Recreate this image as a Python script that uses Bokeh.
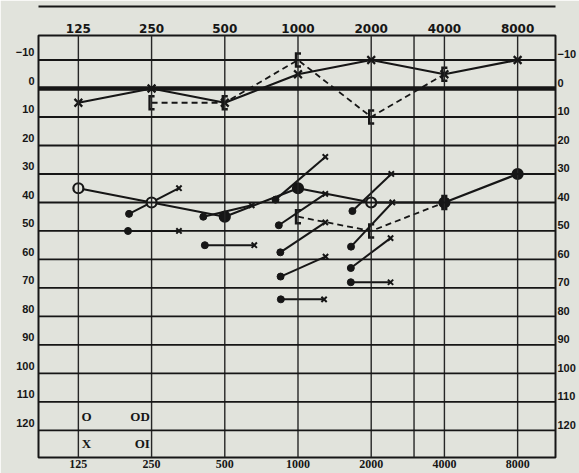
from bokeh.plotting import figure
from bokeh.models import LogAxis, LinearAxis, FixedTicker, Range1d, Span, Label, ColumnDataSource
from bokeh.embed import file_html
from bokeh.resources import INLINE

# ---------------- data ----------------
freqs = [125, 250, 500, 1000, 2000, 4000, 8000]
freq_labels = ["125", "250", "500", "1000", "2000", "4000", "8000"]
grid_freqs = [125, 250, 500, 1000, 2000, 3000, 4000, 8000]
db_ticks = [-10, 0, 10, 20, 30, 40, 50, 60, 70, 80, 90, 100, 110, 120]

# air conduction, left ear (X, OI)
oi_air = [5, 0, 5, -5, -10, -5, -10]
# air conduction, right ear (O, OD)
od_air = [35, 40, 45, 35, 40, 40, 30]
od_air_filled = [False, False, True, True, False, True, True]

# bone conduction (brackets, dashed)
oi_bone_freqs = [250, 500, 1000, 2000, 4000]
oi_bone = [5, 5, -10, 10, -5]
od_bone_freqs = [1000, 2000, 4000]
od_bone = [45, 50, 40]

# balance segments: start (dot) -> end (x)
seg_f0 = [202, 200, 414, 408, 808, 834, 846, 848, 850, 1674, 1652, 1649, 1649]
seg_d0 = [44, 50, 55, 45, 39, 48, 57.5, 66, 74, 43, 55.5, 63, 68]
seg_f1 = [324, 324, 661, 645, 1295, 1295, 1295, 1298, 1280, 2419, 2442, 2402, 2402]
seg_d1 = [35, 50, 55, 41, 24, 37, 47, 59, 74, 30, 40, 52.5, 68]

legend_symbols = ["O", "X"]
legend_names = ["OD", "OI"]

# ---------------- style ----------------
BG = "#e1e3dc"
INK = "#161616"
X_LEFT, X_RIGHT = 85.7, 11450
DB_BOTTOM, DB_TOP = 129.5, -18.6
PX = 2 ** (1 / 73.36)      # one pixel step on the log frequency axis
BR_H = 2.3                 # bracket half height in dB

p = figure(width=579, height=473, x_axis_type="log",
           x_range=Range1d(X_LEFT, X_RIGHT), y_range=Range1d(DB_BOTTOM, DB_TOP),
           x_axis_location=None, y_axis_location=None,
           output_backend="svg", toolbar_location=None,
           min_border_left=38, min_border_right=23, min_border_top=35, min_border_bottom=16,
           background_fill_color=BG, border_fill_color=BG)
p.xgrid.visible = False
p.ygrid.visible = False
p.outline_line_color = INK
p.outline_line_width = 2

p.extra_y_ranges = {
    "labL": Range1d(DB_BOTTOM + 2.7, DB_TOP + 2.7),
    "labR": Range1d(DB_BOTTOM + 2.0, DB_TOP + 2.0),
}

def style_axis(ax, font, size, standoff):
    ax.axis_line_color = None
    ax.major_tick_line_color = None
    ax.minor_tick_line_color = None
    ax.major_tick_out = 0
    ax.major_tick_in = 0
    ax.minor_tick_out = 0
    ax.minor_tick_in = 0
    ax.major_label_standoff = standoff
    ax.major_label_text_font = font
    ax.major_label_text_font_size = size
    ax.major_label_text_font_style = "bold"
    ax.major_label_text_color = INK

overrides = {f: t for f, t in zip(freqs, freq_labels)}
top_ax = LogAxis(ticker=FixedTicker(ticks=freqs, minor_ticks=[]), major_label_overrides=overrides,
                 axis_label=" ", axis_label_standoff=0, axis_label_text_font_size="10px")
style_axis(top_ax, "DejaVu Sans", "12px", 3)
p.add_layout(top_ax, "above")

# thin rule above the top labels (outer axis with only its line)
rule_ax = LogAxis(ticker=FixedTicker(ticks=[], minor_ticks=[]))
rule_ax.major_tick_out = 0
rule_ax.major_tick_in = 0
rule_ax.minor_tick_out = 0
rule_ax.minor_tick_in = 0
rule_ax.major_label_text_font_size = "0px"
rule_ax.major_label_standoff = 0
rule_ax.axis_line_color = INK
rule_ax.axis_line_width = 2
p.add_layout(rule_ax, "above")

bot_ax = LogAxis(ticker=FixedTicker(ticks=freqs, minor_ticks=[]), major_label_overrides=overrides)
style_axis(bot_ax, "Liberation Serif", "12px", 2)
p.add_layout(bot_ax, "below")

left_ax = LinearAxis(y_range_name="labL", ticker=FixedTicker(ticks=db_ticks, minor_ticks=[]))
style_axis(left_ax, "Liberation Sans", "11px", 4)
p.add_layout(left_ax, "left")

right_ax = LinearAxis(y_range_name="labR", ticker=FixedTicker(ticks=db_ticks, minor_ticks=[]))
style_axis(right_ax, "Liberation Sans", "11px", 2)
p.add_layout(right_ax, "right")

# grid
for f in grid_freqs:
    p.add_layout(Span(location=f, dimension="height", line_color="#262626", line_width=1.4))
for d in db_ticks:
    p.add_layout(Span(location=d, dimension="width", line_color=INK,
                      line_width=4.5 if d == 0 else 1.8))

# balance segments
seg = ColumnDataSource(dict(f0=seg_f0, d0=seg_d0, f1=seg_f1, d1=seg_d1))
p.segment("f0", "d0", "f1", "d1", source=seg, line_color=INK, line_width=2)
p.scatter("f0", "d0", source=seg, marker="circle", size=7, fill_color=INK, line_color=INK)
p.scatter("f1", "d1", source=seg, marker="x", size=7.5, line_color=INK, line_width=2)

# bone conduction: dashed lines + "[" brackets built from the data points
p.line(oi_bone_freqs, oi_bone, line_color=INK, line_width=1.8, line_dash="6 4")
p.line(od_bone_freqs, od_bone, line_color=INK, line_width=1.8, line_dash="6 4")
br_f = oi_bone_freqs + od_bone_freqs
br_d = oi_bone + od_bone
br_xs = [[f * PX ** 3, f * PX ** -2, f * PX ** -2, f * PX ** 3] for f in br_f]
br_ys = [[d - BR_H, d - BR_H, d + BR_H, d + BR_H] for d in br_d]
p.multi_line(br_xs, br_ys, line_color=INK, line_width=2.4, line_join="miter")

# air conduction
p.line(freqs, oi_air, line_color=INK, line_width=2.2)
p.scatter(freqs, oi_air, marker="x", size=11, line_color=INK, line_width=2.2)

od_src = ColumnDataSource(dict(f=freqs, d=od_air,
                               fill=[INK if b else BG for b in od_air_filled]))
p.line("f", "d", source=od_src, line_color=INK, line_width=2.2)
p.scatter("f", "d", source=od_src, marker="circle", size=10, fill_color="fill",
          line_color=INK, line_width=2.2)

# legend text
for sym, name, d in zip(legend_symbols, legend_names, [115, 124.5]):
    p.add_layout(Label(x=135, y=d, text=sym, text_align="center", text_baseline="middle",
                       text_font="Liberation Serif", text_font_style="bold",
                       text_font_size="13px", text_color=INK))
    p.add_layout(Label(x=246, y=d, text=name, text_align="right", text_baseline="middle",
                       text_font="Liberation Serif", text_font_style="bold",
                       text_font_size="13px", text_color=INK))

open("out.html", "w").write(file_html(p, INLINE))
